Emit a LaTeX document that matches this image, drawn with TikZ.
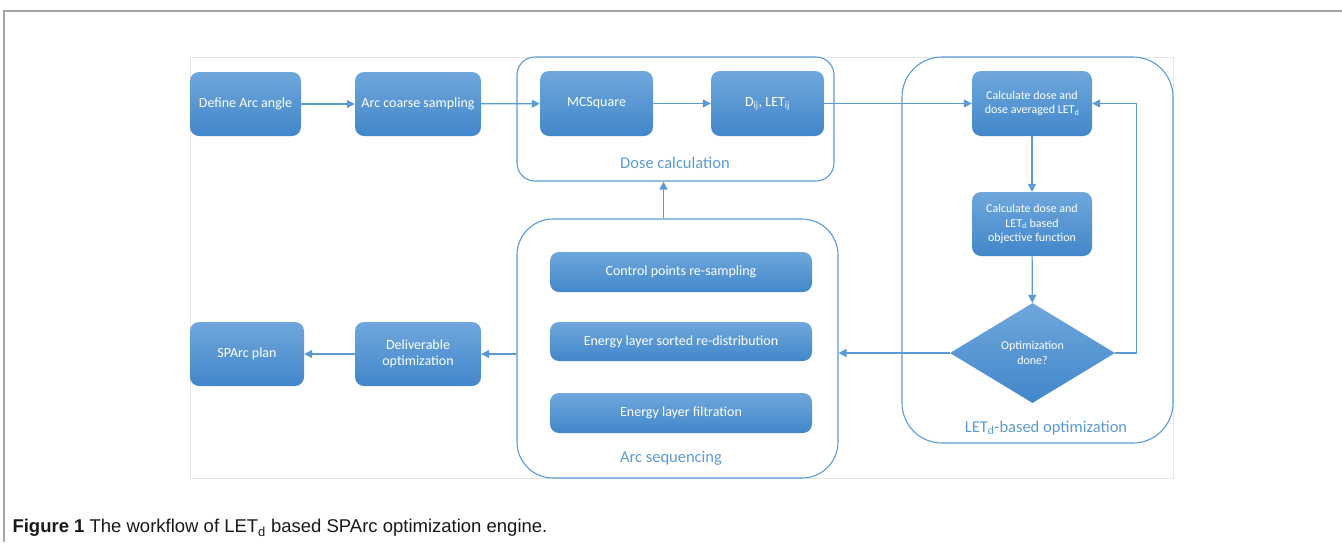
\documentclass[tikz,border=0pt]{standalone}
\usepackage{fontspec}
\newfontfamily\carl{Carlito}
\newfontfamily\capfont{Liberation Sans}
\usetikzlibrary{arrows.meta,shapes.geometric}
\definecolor{boxtop}{HTML}{6FA7DC}
\definecolor{boxbot}{HTML}{4187CA}
\definecolor{office}{HTML}{5B9BD5}
\begin{document}
\begin{tikzpicture}[x=1pt,y=-1pt,>={Triangle[length=8pt,width=8pt]},
  box/.style={rounded corners=9pt,top color=boxtop,bottom color=boxbot,draw=none,text=white,
    inner sep=0pt,align=center,font=\carl\fontsize{14}{16}\selectfont},
  small/.style={box,font=\carl\fontsize{12}{14.5}\selectfont},
  group/.style={draw=office,line width=1.1pt,inner sep=0pt},
  grouplabel/.style={text=office,font=\carl\fontsize{16.5}{18}\selectfont},
  arr/.style={->,draw=office,line width=1.2pt}]
 \useasboundingbox (0,0) rectangle (1342,542);
 \draw[gray!70,line width=1.5pt] (1342,11) -- (4,11) -- (4,542);
 \draw[black!10,line width=0.8pt] (190,57) rectangle (1173,478);
 \node[group,rounded corners=18pt,minimum width=317pt,minimum height=124pt] (dose) at (675.5,119) {};
 \node[group,rounded corners=40pt,minimum width=271pt,minimum height=386pt] (letopt) at (1037.5,250) {};
 \node[group,rounded corners=36pt,minimum width=321pt,minimum height=259pt] (arcseq) at (677.5,348.5) {};
 \node[grouplabel] (doselbl) at (675,163) {Dose calculation};
 \node[grouplabel] (optlbl) at (1046,428) {LET\textsubscript{d}-based optimization};
 \node[grouplabel] (seqlbl) at (671,458) {Arc sequencing};
 \node[box,minimum width=111pt,minimum height=64pt] (angle) at (245.5,104) {Define Arc angle};
 \node[box,minimum width=126pt,minimum height=64pt] (coarse) at (418,104) {Arc coarse sampling};
 \node[box,minimum width=113pt,minimum height=65pt] (mcsq) at (596.5,103.5) {MCSquare};
 \node[box,minimum width=113pt,minimum height=65pt] (dij) at (767.5,103.5) {D\textsubscript{ij}, LET\textsubscript{ij}};
 \node[small,minimum width=120pt,minimum height=65pt] (calc) at (1032,103.5) {Calculate dose and\\dose averaged LET\textsubscript{d}};
 \node[small,minimum width=120pt,minimum height=64pt] (objfun) at (1032,224) {Calculate dose and\\LET\textsubscript{d} based\\objective function};
 \node[small,diamond,rounded corners=0pt,minimum width=165pt,minimum height=100pt] (done) at (1032.5,353) {Optimization\\done?};
 \node[box,minimum width=262pt,minimum height=40pt] (resamp) at (681,272) {Control points re-sampling};
 \node[box,minimum width=262pt,minimum height=39pt] (redist) at (681,341.5) {Energy layer sorted re-distribution};
 \node[box,minimum width=262pt,minimum height=40pt] (filt) at (681,413) {Energy layer filtration};
 \node[box,minimum width=126pt,minimum height=64pt] (deliv) at (418,354) {Deliverable\\optimization};
 \node[box,minimum width=114pt,minimum height=64pt] (plan) at (247,354) {SPArc plan};
 \draw[arr] (angle) -- (coarse); \draw[arr] (coarse) -- (mcsq); \draw[arr] (mcsq) -- (dij);
 \draw[arr] (dij) -- (calc); \draw[arr] (calc) -- (objfun); \draw[arr] (objfun) -- (done);
 \draw[arr] (done.east) -- ++(21,0) |- (calc.east);
 \draw[arr] (done.west) -- (done.west -| arcseq.east);
 \draw[arr] ([xshift=-14pt]arcseq.north) -- ([xshift=-14pt]arcseq.north |- dose.south);
 \draw[arr] (arcseq.west |- deliv.east) -- (deliv.east);
 \draw[arr] (deliv) -- (plan);
 \node[anchor=west,text=black!90,font=\capfont\fontsize{18.5}{21}\selectfont] (caption) at (9,528)
   {\textbf{Figure 1} The workflow of LET\textsubscript{d} based SPArc optimization engine.};
\end{tikzpicture}
\end{document}
